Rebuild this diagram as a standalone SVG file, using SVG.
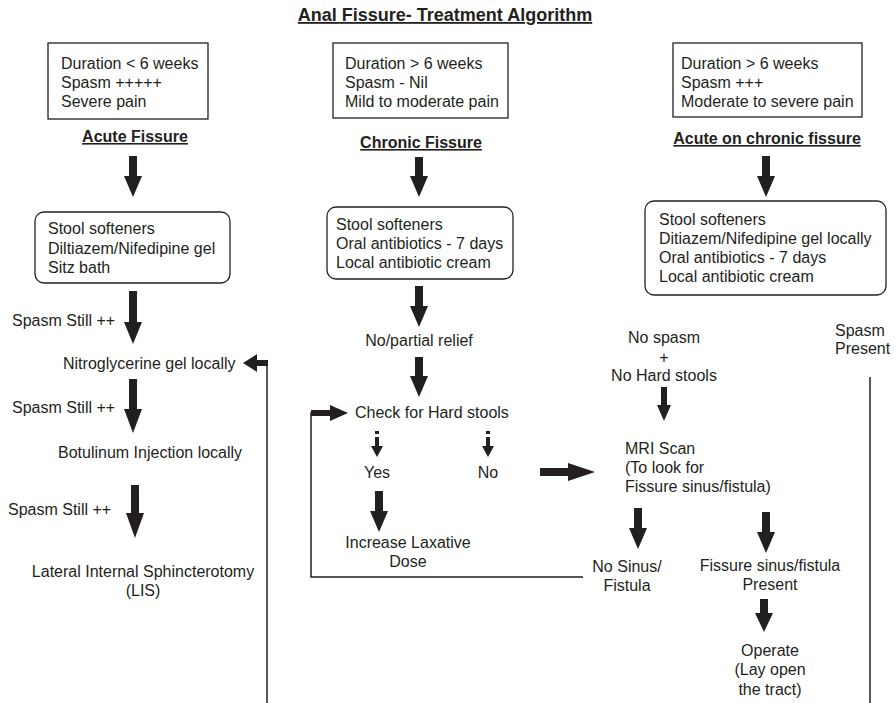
<svg xmlns="http://www.w3.org/2000/svg" width="896" height="703" viewBox="0 0 896 703">
<style>
text{font-family:"Liberation Sans",Arial,sans-serif;font-size:16px;fill:#231f20}
.c{text-anchor:middle}
.b{font-weight:bold;text-decoration:underline}
.t{font-size:18px}
.box{fill:#fff;stroke:#231f20;stroke-width:1.3}
.ar{fill:#231f20}
.ln{fill:none;stroke:#231f20;stroke-width:1.5}
</style>
<rect width="896" height="703" fill="#fff"/>
<text class="c b t" x="445" y="21">Anal Fissure- Treatment Algorithm</text>

<g id="n-acute-box"><rect class="box" x="48" y="43" width="160" height="76"/>
<text x="61" y="69">Duration &lt; 6 weeks</text><text x="61" y="88">Spasm +++++</text><text x="61" y="107">Severe pain</text></g>
<g id="n-acute-label"><text class="c b" x="135" y="142">Acute Fissure</text></g>
<g id="n-chronic-box"><rect class="box" x="333" y="43" width="175" height="75"/>
<text x="345" y="69">Duration &gt; 6 weeks</text><text x="345" y="88">Spasm - Nil</text><text x="345" y="107">Mild to moderate pain</text></g>
<g id="n-chronic-label"><text class="c b" x="421" y="148">Chronic Fissure</text></g>
<g id="n-aoc-box"><rect class="box" x="673" y="43" width="189" height="74"/>
<text x="681" y="69">Duration &gt; 6 weeks</text><text x="681" y="88">Spasm +++</text><text x="681" y="107">Moderate to severe pain</text></g>
<g id="n-aoc-label"><text class="c b" x="767" y="144">Acute on chronic fissure</text></g>

<g id="n-acute-tx"><rect class="box" x="35" y="212" width="195" height="71" rx="9"/>
<text x="48" y="234">Stool softeners</text><text x="48" y="254">Diltiazem/Nifedipine gel</text><text x="48" y="273">Sitz bath</text></g>
<g id="n-chronic-tx"><rect class="box" x="327" y="207" width="186" height="72" rx="9"/>
<text x="336" y="230">Stool softeners</text><text x="336" y="249">Oral antibiotics - 7 days</text><text x="336" y="268">Local antibiotic cream</text></g>
<g id="n-aoc-tx"><rect class="box" x="645" y="201" width="241" height="94" rx="9"/>
<text x="659" y="225">Stool softeners</text><text x="659" y="244">Ditiazem/Nifedipine gel locally</text><text x="659" y="263">Oral antibiotics - 7 days</text><text x="659" y="282">Local antibiotic cream</text></g>

<g id="n-ntg"><text x="63" y="369">Nitroglycerine gel locally</text></g>
<g id="n-botox"><text x="58" y="458">Botulinum Injection locally</text></g>
<g id="n-lis"><text class="c" x="143" y="577">Lateral Internal Sphincterotomy</text><text class="c" x="143" y="596">(LIS)</text></g>
<g id="n-relief"><text class="c" x="419" y="346">No/partial relief</text></g>
<g id="n-check"><text x="355" y="418">Check for Hard stools</text></g>
<g id="n-yes"><text class="c" x="377" y="478">Yes</text></g>
<g id="n-no"><text class="c" x="488" y="478">No</text></g>
<g id="n-laxative"><text class="c" x="408" y="548">Increase Laxative</text><text class="c" x="408" y="567">Dose</text></g>
<g id="n-nospasm"><text class="c" x="664" y="343">No spasm</text><text class="c" x="664" y="363">+</text><text class="c" x="664" y="381">No Hard stools</text></g>
<g id="n-spasm-present"><text x="835" y="336">Spasm</text><text x="835" y="354">Present</text></g>
<g id="n-mri"><text x="625" y="454">MRI Scan</text><text x="625" y="473">(To look for</text><text x="625" y="492">Fissure sinus/fistula)</text></g>
<g id="n-nosinus"><text class="c" x="627" y="572">No Sinus/</text><text class="c" x="627" y="591">Fistula</text></g>
<g id="n-sinus"><text class="c" x="770" y="571">Fissure sinus/fistula</text><text class="c" x="770" y="590">Present</text></g>
<g id="n-operate"><text class="c" x="770" y="656">Operate</text><text class="c" x="770" y="675">(Lay open</text><text class="c" x="770" y="695">the tract)</text></g>
<g id="n-spasm-labels"><text x="12" y="326">Spasm Still ++</text><text x="12" y="413">Spasm Still ++</text><text x="8" y="515">Spasm Still ++</text></g>

<g id="connectors">
<path class="ar" d="M129,156h8v20h5l-9,21l-9,-21h5z"/>
<path class="ar" d="M415,157h8v19h5l-9,21l-9,-21h5z"/>
<path class="ar" d="M762,156h8v20h5l-9,21l-9,-21h5z"/>
<path class="ar" d="M129,291h8v31h5l-9,22l-9,-22h5z"/>
<path class="ar" d="M129,379h8v30h5l-9,24l-9,-24h5z"/>
<path class="ar" d="M131,485h8v28h5l-9,25l-9,-25h5z"/>
<path class="ar" d="M415,286h8v20h5l-9,21l-9,-21h5z"/>
<path class="ar" d="M415,357h8v19h5l-9,21l-9,-21h5z"/>
<path class="ar" d="M375,491h8v20h5l-9,21l-9,-21h5z"/>
<path class="ar" d="M661,387h6v18h4l-7,16l-7,-16h4z"/>
<path class="ar" d="M634,508h8v20h5l-9,21l-9,-21h5z"/>
<path class="ar" d="M762,512h8v20h5l-9,21l-9,-21h5z"/>
<path class="ar" d="M760,599h8v14h5l-9,19l-9,-19h5z"/>
<!-- dashed small arrows -->
<rect class="ar" x="375" y="431" width="4" height="3"/><path class="ar" d="M375,437h4v9h4l-6,11l-6,-11h4z"/>
<rect class="ar" x="486" y="431" width="4" height="3"/><path class="ar" d="M486,437h4v9h4l-6,11l-6,-11h4z"/>
<!-- No to MRI -->
<path class="ar" d="M540,468h28v-5l27,9l-27,9v-5h-28z"/>
<!-- loop back to Check -->
<path class="ln" d="M583,577H311V413h8"/>
<path class="ar" d="M311,410h19v-5l18,8l-18,8v-5h-19z"/>
<!-- feedback to NTG -->
<path class="ln" d="M267,703V363"/>
<path class="ar" d="M268,360h-11v-6l-14,9l14,9v-6h11z"/>
<!-- right line -->
<path class="ln" d="M870,377V703"/>
</g>
</svg>
